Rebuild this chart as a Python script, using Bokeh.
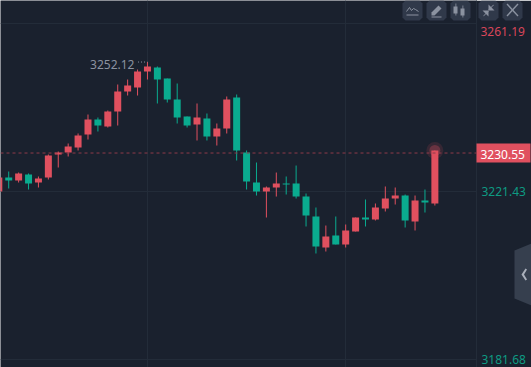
from bokeh.plotting import figure
from bokeh.embed import file_html
from bokeh.resources import INLINE
from bokeh.core.properties import value
from bokeh.models import ColumnDataSource, FixedTicker, NumeralTickFormatter, Span, Range1d

opens = [3221.43,3224.75,3224.04,3225.46,3223.56,3224.75,3230.20,3230.67,3231.86,3234.94,
         3238.49,3236.84,3240.39,3245.13,3246.08,3249.87,3250.82,3248.21,3243.23,3239.21,
         3237.31,3238.73,3234.47,3236.36,3243.71,3230.67,3223.56,3221.43,3222.38,3223.33,
         3223.33,3220.24,3215.51,3208.16,3211.00,3208.87,3211.95,3215.27,3214.79,3217.40,
         3219.77,3220.48,3214.32,3219.30,3218.59]
highs = [3224.75,3226.17,3225.93,3225.70,3224.99,3230.20,3230.91,3232.81,3235.18,3239.68,
         3238.97,3240.63,3246.79,3247.97,3250.34,3252.12,3251.06,3248.21,3247.03,3239.21,
         3242.29,3239.92,3237.55,3243.95,3244.42,3231.15,3228.30,3222.62,3225.93,3224.99,
         3227.59,3220.96,3217.64,3213.37,3215.51,3213.61,3215.27,3219.53,3218.59,3222.62,
         3222.38,3220.72,3220.48,3221.90,3231.15]
lows = [3221.43,3222.14,3223.56,3221.90,3222.38,3224.27,3227.12,3229.73,3231.15,3233.75,
        3235.65,3236.60,3237.07,3244.18,3244.18,3247.97,3242.29,3242.52,3237.55,3236.60,
        3233.52,3233.52,3232.33,3235.18,3228.78,3221.90,3220.48,3215.27,3220.24,3220.72,
        3219.77,3213.14,3206.74,3207.21,3208.87,3208.16,3211.95,3213.14,3214.56,3216.69,
        3218.35,3212.90,3212.19,3216.45,3218.11]
closes = [3224.75,3224.04,3225.70,3223.33,3224.51,3229.96,3230.67,3232.10,3234.70,3238.49,
          3237.07,3240.39,3245.13,3246.55,3249.87,3251.06,3247.97,3243.23,3238.97,3237.07,
          3238.97,3234.47,3236.36,3243.23,3231.15,3223.80,3221.43,3222.38,3223.33,3223.09,
          3220.24,3215.74,3208.40,3210.77,3208.87,3212.19,3215.27,3214.79,3217.64,3219.77,
          3220.48,3214.56,3219.30,3218.82,3231.15]
grid_prices = [3261.19, 3221.43, 3181.68]
axis_prices = [3221.43, 3181.68]
grid_candles = [15, 35]
top_label = "3261.19"
last_price = 3230.55
high_price = 3252.12
high_index = 15

BG = "#1a212e"
GRID = "#232c39"
RED = "#e0505f"
GREEN = "#0aab8f"
CHROME = "#30394a"
ICON = "#8b92a0"
FONT = "Noto Sans"
HALF = 0.353

colors = [RED if c >= o else GREEN for o, c in zip(opens, closes)]
idx = list(range(len(opens)))
src = ColumnDataSource(dict(x=idx, o=opens, h=highs, l=lows, c=closes, color=colors,
                            left=[i - HALF for i in idx], right=[i + HALF for i in idx]))

p = figure(width=531, height=367, output_backend="svg", toolbar_location=None,
           x_range=Range1d(0.1715, 48.2), y_range=Range1d(3179.72, 3266.70),
           y_axis_location="right", min_border=0, min_border_right=55,
           background_fill_color=BG, border_fill_color=BG, outline_line_color=None)
p.xaxis.visible = False
p.xgrid.ticker = FixedTicker(ticks=grid_candles)
p.ygrid.ticker = FixedTicker(ticks=grid_prices)
p.xgrid.grid_line_color = GRID
p.ygrid.grid_line_color = GRID
p.yaxis.ticker = FixedTicker(ticks=axis_prices)
p.yaxis.formatter = NumeralTickFormatter(format="0.00")
p.yaxis.major_tick_line_color = None
p.yaxis.minor_tick_line_color = None
p.yaxis.major_tick_out = 0
p.yaxis.major_tick_in = 0
p.yaxis.minor_tick_out = 0
p.yaxis.axis_line_color = GRID
p.yaxis.major_label_text_color = "#0e9a82"
p.yaxis.major_label_text_font = FONT
p.yaxis.major_label_text_font_size = "12px"
p.yaxis.major_label_standoff = 5

p.add_layout(Span(location=last_price, dimension="width", line_color="#8f3a4a",
                  line_dash="3 3", line_width=1))

p.segment("x", "h", "x", "l", source=src, line_color="color", line_width=1)
p.quad(left="left", right="right", top="c", bottom="o", source=src,
       fill_color="color", line_color=None)

# glow on the last candle
p.scatter([idx[-1]], [closes[-1]], size=17, fill_color=RED, fill_alpha=0.14, line_color=None)
p.scatter([idx[-1]], [closes[-1]], size=11, fill_color=RED, fill_alpha=0.3, line_color=None)

# high marker
p.text([high_index], [high_price], text=[f"{high_price:.2f}"], text_align="right",
       text_baseline="middle", x_offset=-13, y_offset=2, text_color=ICON,
       text_font=value(FONT), text_font_size="12px")
p.segment([high_index - 0.95], [high_price], [high_index], [high_price],
          line_color=ICON, line_dash="1 2", line_width=1)

# transparent layer over the whole picture, for what lies outside the plot frame
o = figure(width=531, height=367, output_backend="svg", toolbar_location=None,
           x_range=Range1d(0, 531), y_range=Range1d(3179.72, 3266.70), min_border=0,
           background_fill_alpha=0, border_fill_alpha=0, outline_line_color=None)
o.extra_y_ranges = {"px": Range1d(367, 0)}
o.axis.visible = False
o.grid.visible = False
o.styles = {"position": "absolute", "left": "0px", "top": "0px"}

o.text([480], [grid_prices[0]], text=[top_label], text_color="#d8465a", text_baseline="middle",
       y_offset=8, text_font=value(FONT), text_font_size="12px")
o.quad(left=[476], right=[530], top=[143], bottom=[162], y_range_name="px",
       fill_color=RED, line_color=None)
o.text([480], [last_price], text=[f"{last_price:.2f}"], text_color="#ffffff",
       text_baseline="middle", y_offset=1, text_font=value(FONT), text_font_size="12px")


def poly(xs, ys, fill=ICON, line=None, width=1):
    if fill:
        o.patch(xs, ys, y_range_name="px", fill_color=fill, line_color=None)
    else:
        o.line(xs, ys, y_range_name="px", line_color=line, line_width=width)


# control buttons
for left in (402, 426, 450, 478, 502):
    right, top, bottom = left + 20, 0, 20
    r = 3
    poly([left + r, right - r, right, right, right - r, left + r, left, left],
         [top, top, top + r, bottom - r, bottom, bottom, bottom - r, top + r], fill=CHROME)

# chart icon
poly([406, 409, 411, 413, 415, 418], [11, 7, 10, 8, 9, 11], fill=None, line=ICON)
poly([406, 418, 418, 406], [14, 14, 15, 15])
# pencil icon
poly([431, 438, 441, 434, 431], [12, 5, 8, 15, 15])
poly([431, 441, 441, 431], [16, 16, 17, 17])
# candles icon
poly([453, 457, 457, 453], [6, 6, 13, 13])
poly([460, 464, 464, 460], [8, 8, 15, 15])
poly([455, 455.8, 455.8, 455], [3, 3, 15, 15])
poly([462, 462.8, 462.8, 462], [5, 5, 17, 17])
# collapse icon
poly([483, 488, 488, 483], [15, 10, 11, 16])
poly([488, 493, 493, 488], [9, 4, 5, 10])
poly([482, 488, 488], [10, 10, 16])
poly([488, 494, 488], [10, 10, 4])
# close icon
poly([506, 507, 518, 517], [4, 3, 15, 16])
poly([517, 518, 507, 506], [3, 4, 16, 15])
# side handle
poly([514, 531, 531, 514], [250, 243, 305, 298], fill="#363f4e")
poly([525, 521, 525, 526.5, 523.5, 526.5], [268, 274, 280, 279, 274, 269], fill="#aab0bb")

open("out.html", "w").write(file_html([p, o], INLINE))
